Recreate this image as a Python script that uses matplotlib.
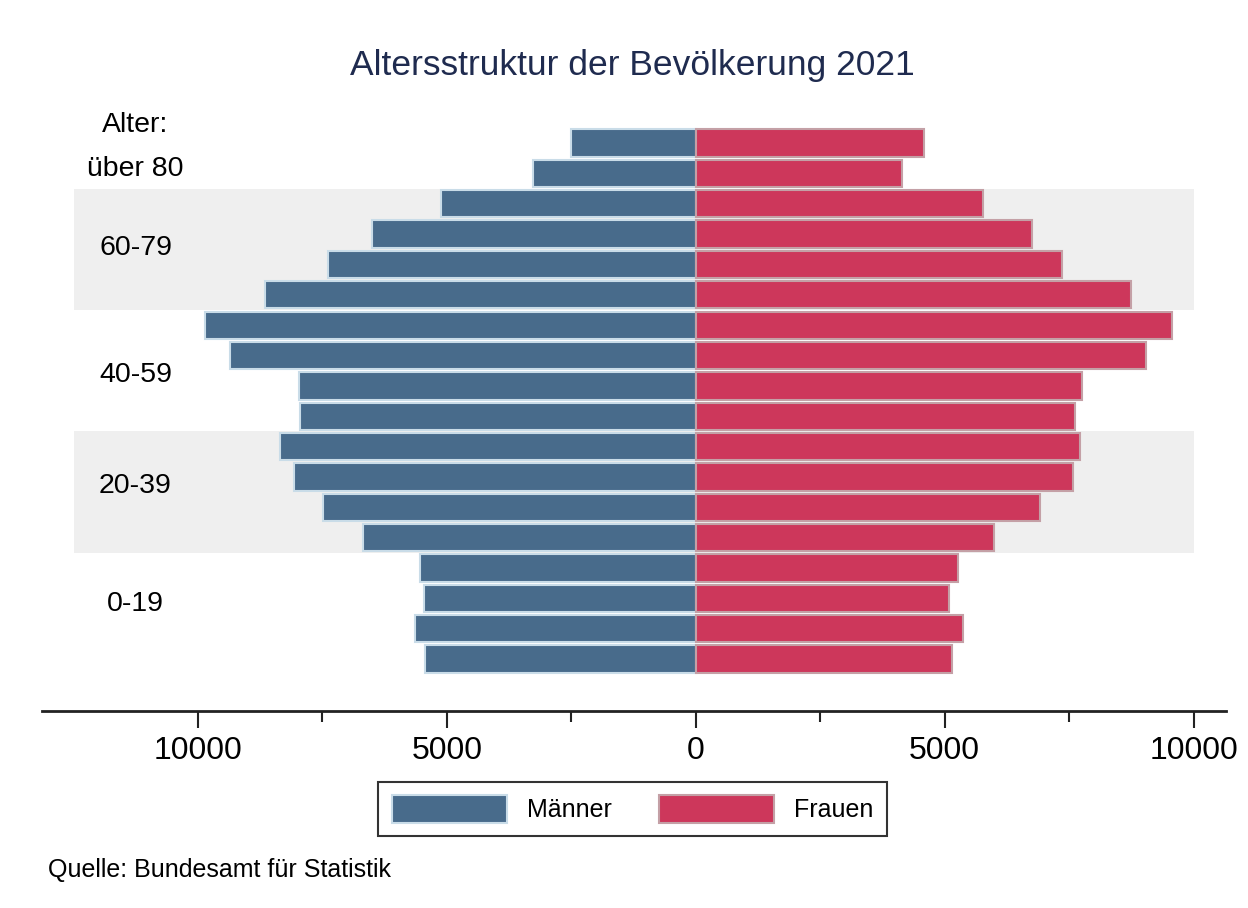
import matplotlib
matplotlib.use("Agg")
import matplotlib.pyplot as plt
from matplotlib.patches import Patch

plt.rcParams['font.family'] = ['Liberation Sans', 'DejaVu Sans']

# Age groups (5-year), bottom to top
age_groups = ["0-4", "5-9", "10-14", "15-19", "20-24", "25-29", "30-34", "35-39",
              "40-44", "45-49", "50-54", "55-59", "60-64", "65-69", "70-74", "75-79",
              "80-84", "85+"]
maenner = [5440, 5630, 5460, 5530, 6690, 7480, 8060, 8340,
           7940, 7970, 9360, 9850, 8650, 7390, 6510, 5110, 3270, 2500]
frauen = [5140, 5360, 5090, 5260, 5980, 6910, 7580, 7710,
          7620, 7750, 9040, 9560, 8740, 7350, 6750, 5770, 4150, 4580]

group_labels = ["Alter:", "über 80", "60-79", "40-59", "20-39", "0-19"]
group_label_y = [17.6, 16.15, 13.55, 9.35, 5.7, 1.8]
bands = [(3.5, 7.5), (11.5, 15.5)]

xticks_major = [-10000, -5000, 0, 5000, 10000]
xticks_minor = [-7500, -2500, 2500, 7500]

c_m = "#486b8b"
c_f = "#cd375b"
e_m = "#c9dce8"
e_f = "#c4a0a6"

fig = plt.figure(figsize=(12.48, 9.08), dpi=100)
ax = fig.add_axes([0.0337, 0.2170, 0.9486, 0.6729])

y = list(range(len(age_groups)))
for lo, hi in bands:
    ax.fill_between([-12490, 10000], lo, hi, color="#efefef", lw=0, zorder=0)

ax.barh(y, [-v for v in maenner], height=0.9, color=c_m, edgecolor=e_m, linewidth=1.5, zorder=2)
ax.barh(y, frauen, height=0.9, color=c_f, edgecolor=e_f, linewidth=1.5, zorder=2)

for lab, yy in zip(group_labels, group_label_y):
    ax.text(-11250, yy, lab, ha="center", va="center", fontsize=20.5, color="black")

ax.set_xlim(-13127, 10647)
ax.set_ylim(-1.71, 18.42)
ax.set_yticks([])
for s in ["top", "right", "left"]:
    ax.spines[s].set_visible(False)
ax.spines["bottom"].set_linewidth(2)
ax.spines["bottom"].set_color("#222222")
ax.set_xticks(xticks_major)
ax.set_xticklabels([str(abs(v)) for v in xticks_major], fontsize=23)
ax.set_xticks(xticks_minor, minor=True)
ax.tick_params(axis="x", which="major", length=12, width=1.5, pad=6, color="#222222")
ax.tick_params(axis="x", which="minor", length=8, width=1.5, color="#222222")

fig.text(0.507, 1 - 66 / 908, "Altersstruktur der Bevölkerung 2021", ha="center", va="center",
         fontsize=25.5, color="#1f2b4f")

handles = [Patch(facecolor=c_m, edgecolor=e_m, linewidth=1.5, label="Männer"),
           Patch(facecolor=c_f, edgecolor=e_f, linewidth=1.5, label="Frauen")]
leg = fig.legend(handles=handles, loc="center", bbox_to_anchor=(0.507, 1 - 809 / 908), ncol=2,
                 fontsize=18, frameon=True, fancybox=False, handlelength=4.6, handleheight=1.3,
                 handletextpad=0.8, columnspacing=1.9, borderpad=0.55, borderaxespad=0)
leg.get_frame().set_edgecolor("black")
leg.get_frame().set_linewidth(1.5)

fig.text(48 / 1248, 1 - 870 / 908, "Quelle: Bundesamt für Statistik", ha="left", va="center",
         fontsize=18, color="black")

fig.savefig("out.png", dpi=100)
